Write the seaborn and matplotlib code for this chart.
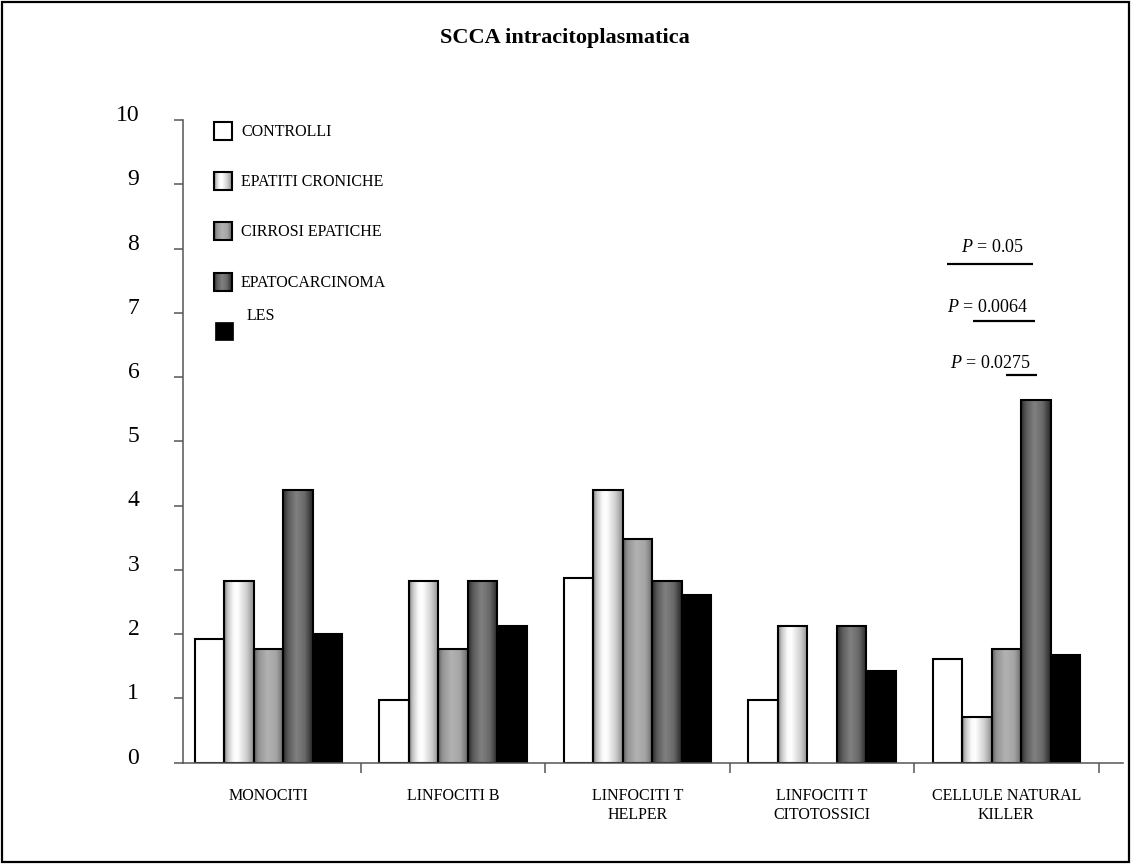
import numpy as np
import pandas as pd
import matplotlib
matplotlib.use("Agg")
import matplotlib.pyplot as plt
import matplotlib.transforms as mtransforms
from matplotlib.colors import LinearSegmentedColormap
from matplotlib.patches import Rectangle
import seaborn as sns

# ---- data -------------------------------------------------------------
categories = ["MONOCITI", "LINFOCITI B", "LINFOCITI T\nHELPER",
              "LINFOCITI T\nCITOTOSSICI", "CELLULE NATURAL\nKILLER"]
groups = ["CONTROLLI", "EPATITI CRONICHE", "CIRROSI EPATICHE",
          "EPATOCARCINOMA", "LES"]
controlli = [1.92, 0.97, 2.87, 0.97, 1.61]
epatiti_croniche = [2.83, 2.83, 4.24, 2.13, 0.71]
cirrosi_epatiche = [1.77, 1.77, 3.48, 0.0, 1.77]
epatocarcinoma = [4.24, 2.83, 2.83, 2.13, 5.64]
les = [2.00, 2.13, 2.61, 1.43, 1.67]
y_ticks = list(range(0, 11))
p_values = ["0.05", "0.0064", "0.0275"]
title = "SCCA intracitoplasmatica"

series = [controlli, epatiti_croniche, cirrosi_epatiche, epatocarcinoma, les]
df = pd.DataFrame({
    "cellula": [c for _ in groups for c in categories],
    "gruppo": [g for g in groups for _ in categories],
    "valore": [v for s in series for v in s],
})

# ---- style ------------------------------------------------------------
sns.set_theme(style="white")
plt.rcParams["font.family"] = ["Liberation Serif", "DejaVu Serif"]
plt.rcParams["mathtext.fontset"] = "custom"
plt.rcParams["mathtext.rm"] = "Liberation Serif"
plt.rcParams["mathtext.it"] = "Liberation Serif:italic"
for key in ["text.color", "axes.labelcolor", "xtick.color", "ytick.color"]:
    plt.rcParams[key] = "black"

W, H, DPI = 1131, 864, 100
fig = plt.figure(figsize=(W / DPI, H / DPI), dpi=DPI)
fig.patch.set_facecolor("white")

# axes frame in pixels: left spine x=183, x-axis y=762.5, value 10 at y=120
ax_left, ax_right = 183, 1123
ax_bottom, ax_top = 762.5, 120
ax = fig.add_axes([ax_left / W, (H - ax_bottom) / H,
                   (ax_right - ax_left) / W, (ax_bottom - ax_top) / H])

base_colors = ["#ffffff", "#e0e0e0", "#a8a8a8", "#707070", "#000000"]
sns.barplot(data=df, x="cellula", y="valore", hue="gruppo",
            order=categories, hue_order=groups, palette=base_colors,
            edgecolor="black", linewidth=1.5, width=0.8, errorbar=None,
            saturation=1, legend=False, ax=ax)

# horizontal shading used for the three gradient groups
gradients = {
    "EPATITI CRONICHE": LinearSegmentedColormap.from_list("epc", [
        (0.0, "#7a7a7a"), (0.12, "#c4c4c4"), (0.32, "#fbfbfb"),
        (0.45, "#ffffff"), (0.75, "#cfcfcf"), (1.0, "#8e8e8e")]),
    "CIRROSI EPATICHE": LinearSegmentedColormap.from_list("cir", [
        (0.0, "#5e5e5e"), (0.15, "#939393"), (0.45, "#b2b2b2"),
        (0.75, "#a4a4a4"), (1.0, "#686868")]),
    "EPATOCARCINOMA": LinearSegmentedColormap.from_list("hcc", [
        (0.0, "#2a2a2a"), (0.18, "#5c5c5c"), (0.45, "#808080"),
        (0.72, "#6a6a6a"), (1.0, "#262626")]),
}
ramp = np.linspace(0, 1, 256).reshape(1, -1)

for grp, container in zip(groups, ax.containers):
    for patch in container:
        if patch.get_height() == 0:
            patch.set_linewidth(0)
        if grp in gradients:
            x0, y0 = patch.get_x(), patch.get_y()
            w, h = patch.get_width(), patch.get_height()
            patch.set_facecolor("none")
            im = ax.imshow(ramp, cmap=gradients[grp], aspect="auto",
                           extent=(x0, x0 + w, y0, y0 + h), origin="lower",
                           interpolation="bilinear",
                           zorder=patch.get_zorder() - 0.05)
            im.set_clip_path(patch)

ax.set_xlim(-0.463, 4.632)
ax.set_ylim(0, 10)
ax.set_xlabel("")
ax.set_ylabel("")

axis_col = "#555555"
for side in ["top", "right"]:
    ax.spines[side].set_visible(False)
for side in ["left", "bottom"]:
    ax.spines[side].set_color(axis_col)
    ax.spines[side].set_linewidth(1.1)

# y axis: ticks outward, large serif labels sitting a bit above each tick
ax.set_yticks(y_ticks)
ax.set_yticklabels([str(t) for t in y_ticks])
ax.tick_params(axis="y", which="major", direction="out", length=6.5,
               width=1.1, color=axis_col, pad=25, labelsize=17,
               labelcolor="black", left=True)
lift = mtransforms.ScaledTranslation(0, 7 / DPI, fig.dpi_scale_trans)
for lab in ax.get_yticklabels():
    lab.set_transform(lab.get_transform() + lift)

# x axis: divider ticks between groups, labels centred under groups
ax.set_xticks([i + 0.5 for i in range(len(categories))])
ax.set_xticklabels([""] * len(categories))
ax.set_xticks(list(range(len(categories))), minor=True)
ax.set_xticklabels(categories, minor=True, fontsize=11.5, linespacing=1.3)
ax.tick_params(axis="x", which="major", direction="out", length=7,
               width=1.1, color=axis_col, bottom=True)
ax.tick_params(axis="x", which="minor", length=0, pad=18, bottom=True,
               labelcolor="black")
ax.grid(False)

# ---- overlay in pixel coordinates: title, legend, annotations, frame --
ov = fig.add_axes([0, 0, 1, 1], zorder=5)
ov.set_xlim(0, W)
ov.set_ylim(H, 0)
ov.axis("off")
ov.patch.set_alpha(0)

ov.text(565, 38, title, ha="center", va="center", fontsize=16,
        fontweight="bold", color="black")

legend_rows = [131, 181, 231, 282]
for grp, yc in zip(groups[:4], legend_rows):
    x0, s = 214, 18
    if grp in gradients:
        ov.imshow(ramp, cmap=gradients[grp], aspect="auto",
                  extent=(x0, x0 + s, yc + s / 2, yc - s / 2),
                  interpolation="bilinear", zorder=2)
        face = "none"
    else:
        face = "white"
    ov.add_patch(Rectangle((x0, yc - s / 2), s, s, facecolor=face,
                           edgecolor="black", linewidth=1.5, zorder=3))
    ov.text(241, yc + 1, grp, ha="left", va="center", fontsize=11.5,
            color="black")
ov.add_patch(Rectangle((215, 322), 18, 18, facecolor="black",
                       edgecolor="black", linewidth=0.5, zorder=3))
ov.text(247, 316, groups[4], ha="left", va="center", fontsize=11.5,
        color="black")

p_text_pos = [(993, 248), (988, 308), (991, 363)]
p_lines = [(947, 1033, 264), (973, 1035, 321), (1006, 1037, 375)]
for pv, (tx, ty), (lx0, lx1, ly) in zip(p_values, p_text_pos, p_lines):
    ov.text(tx, ty, r"$P$ = " + pv, ha="center", va="center", fontsize=13,
            color="black")
    ov.plot([lx0, lx1], [ly, ly], color="black", linewidth=1.6,
            solid_capstyle="butt")

ov.add_patch(Rectangle((2, 2), W - 4, H - 4, fill=False,
                       edgecolor="black", linewidth=1.6))

fig.savefig("out.png", dpi=DPI, facecolor="white")
